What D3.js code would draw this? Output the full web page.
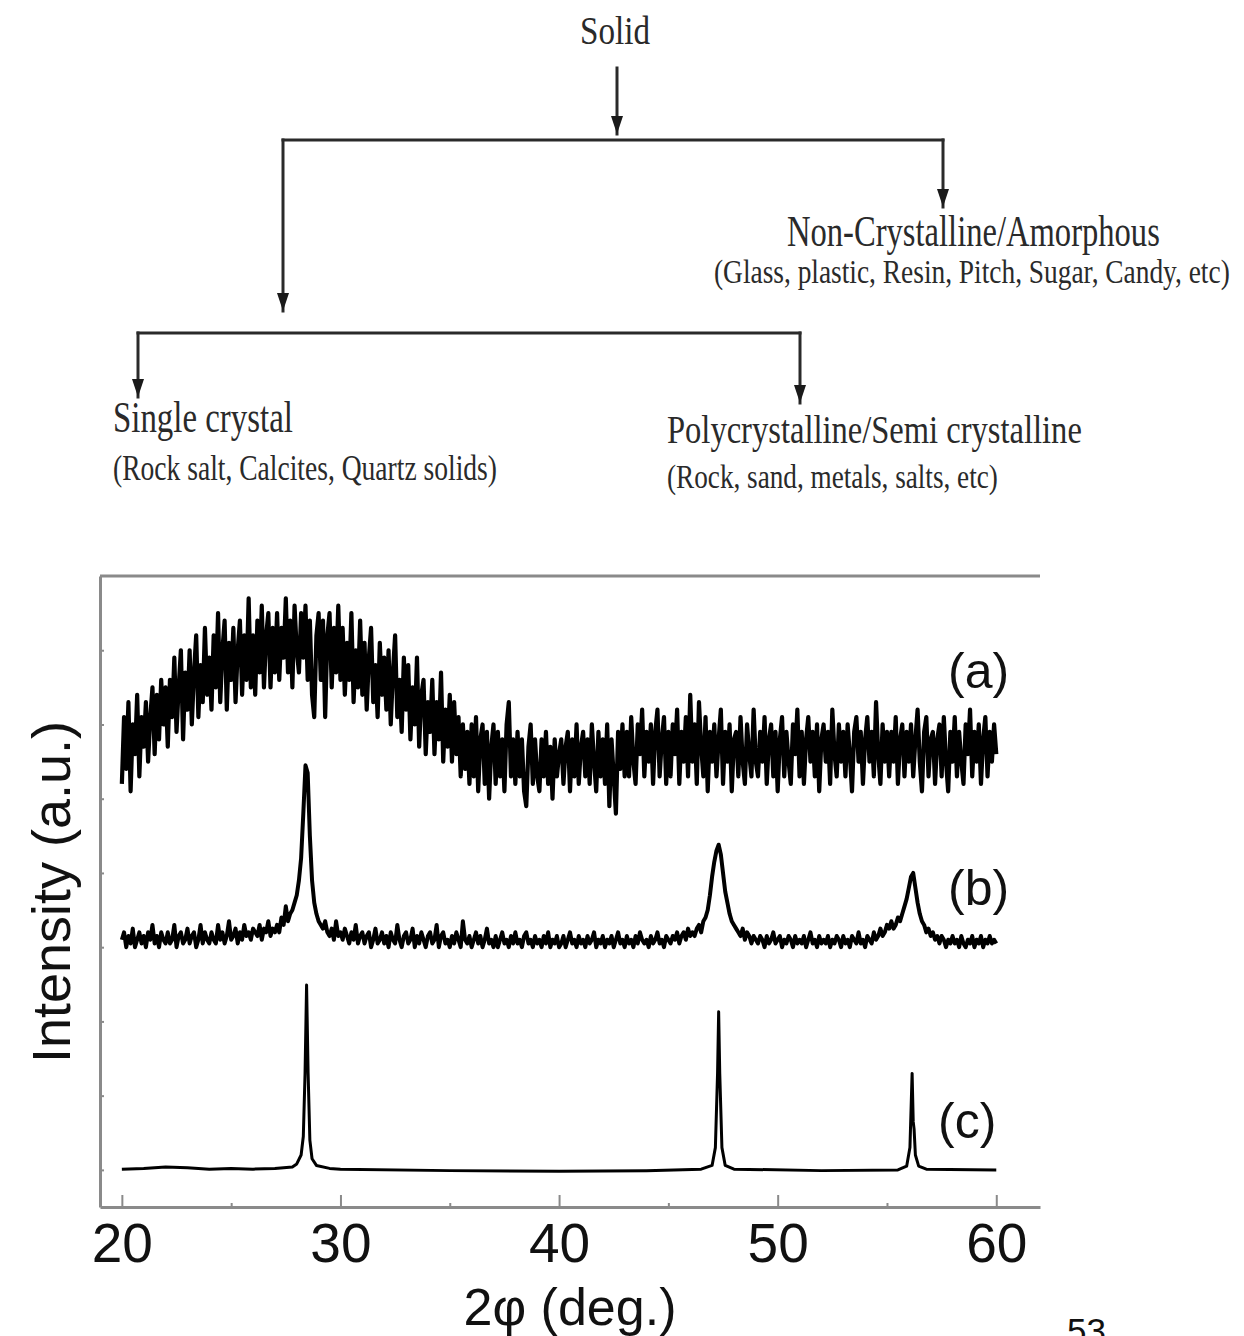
<!DOCTYPE html>
<html>
<head>
<meta charset="utf-8">
<script src="https://cdn.jsdelivr.net/npm/d3@7"></script>
<style>
  html, body { margin: 0; padding: 0; background: #fff; }
  svg { display: block; }
</style>
</head>
<body>
<script>
// ---- XRD scan data (2θ from 20° to 60°, 0.1° steps) ----
const scanStart = 20;
const scanStep = 0.1;

// (a) amorphous sample: broad hump, noisy
const amorphous = [
  57,66,59,68,56,65,61,69,58,66,62,
  68,60,66,70,61,69,63,71,65,70,
  62,71,66,74,64,70,75,63,72,67,
  75,65,72,77,66,73,68,78,69,74,
  67,77,70,80,68,75,79,67,76,71,
  78,68,75,79,69,77,71,82,70,77,
  69,79,72,81,70,77,80,70,78,72,
  80,71,78,74,82,72,79,70,81,75,
  72,80,74,81,71,79,69,66,77,80,
  71,79,66,77,80,70,78,72,81,71,
  78,69,76,71,80,68,75,70,79,69,
  76,67,74,78,68,73,66,76,69,74,
  67,75,65,72,77,66,71,64,74,67,
  73,63,70,65,74,62,69,71,61,68,
  64,71,61,68,63,72,60,67,62,69,
  60,68,61,66,58,65,59,64,57,65,
  58,66,56,63,65,57,64,55,62,65,
  57,64,58,63,56,65,68,58,63,57,
  64,58,63,56,54,62,65,57,63,58,
  56,63,58,64,57,62,55,63,58,61,
  63,57,62,64,56,63,58,65,57,62,
  64,58,63,57,65,60,56,64,58,63,
  57,65,54,63,58,53,64,59,65,58,
  64,58,66,60,57,65,61,67,58,64,
  60,65,57,64,67,58,63,66,57,64,
  58,65,61,67,57,64,60,66,58,69,
  60,65,57,68,62,58,66,56,64,60,
  65,58,63,67,57,64,60,65,56,63,
  64,58,66,60,57,65,61,58,67,60,
  58,64,60,66,57,63,65,58,64,56,
  63,66,58,64,60,57,65,61,67,58,
  64,57,63,66,60,64,58,65,56,63,
  65,60,64,57,67,61,58,65,60,64,
  58,65,61,56,64,66,60,64,57,63,
  66,60,64,58,68,61,57,65,60,64,
  58,64,60,66,57,63,65,58,64,60,
  65,58,63,67,60,56,64,66,58,63,
  64,57,63,65,58,66,60,56,64,60,
  66,58,64,60,57,65,61,67,58,64,
  60,65,57,63,66,58,64,60,65,61
];

// (b) polycrystalline / semi-crystalline sample: broadened peaks
const semiCrystalline = [
  36,37,35,36.5,35.5,37.5,35,36,37,35.5,36.5,
  35,37,36,38,35.5,36.5,35,37,36,35.5,
  37,35.5,36,38,35,36.5,37,35.5,36,37.5,
  35.5,36.5,37,35,36,38,35.5,37,36,35.5,
  37,36,35.5,38,36,37,35.5,36.5,38.5,36,
  36.5,37.5,35.5,37,36,38,36.5,37,36,37.5,
  37,36.5,38,36,37.5,37,38.5,36.5,37.5,37,
  38,37,39,38,40.5,38.5,39.5,40,41,42,
  44,47,53,59.5,58.5,50,44,41,39.5,38.5,
  38,37.5,38.5,37,36.5,37.5,36,38.5,36.5,37,
  36,37.5,36.5,35.5,37,36,38,35.5,36.5,37,
  35.5,36.5,37,35,36,37.5,35.5,36,37,35.5,
  36.5,35,37,36,35.5,38,36,35,36.5,37,
  35.5,36,37.5,35,36.5,35.5,37,36,35,36.5,
  37,35.5,36,38,35,36.5,37,35.5,36,35,
  36.5,35.5,37,36,35,38.5,36,35.5,36.5,35,
  36,37,35.5,36.5,35,36,37.5,35.5,36,35,
  36.5,35,36,37,35.5,36,35,36.5,35.5,37,
  35.5,36,35,36.5,37,35.5,36,35,36.5,35.5,
  36,35,36.5,35.5,37,35,36,35.5,36.5,35,
  35.5,36.5,35,36,37,35.5,36,35,36.5,35.5,
  36,35,36.5,35.5,36,37,35,36,35.5,36.5,
  35,36,35.5,36.5,35,36,37,35.5,36,35,
  36.5,35.5,36,35,36.5,35.5,37,36,35.5,36,
  35,36.5,35.5,36,37,35.5,36,35,36.5,36,
  35.5,36.5,36,37,35.5,36.5,37,36,37.5,36.5,
  37,36.5,37.5,38,37,38.5,39,40,42,44.5,
  46.5,48,48.8,47.5,45,42.5,41,39.5,38.5,38,
  37.5,37,36.5,37.5,36,37,36.5,35.5,36.5,36,
  35.5,36.5,36,35,36.5,35.5,36,37,35.5,36,
  36.5,35,36,35.5,36.5,36,35,36.5,35.5,36,
  35.5,36.5,35,36,37,35.5,36,35,36.5,35.5,
  36,35.5,36.5,35,36,35.5,36.5,36,35,36.5,
  35.5,36,35,36.5,36,35.5,37,35.5,36,35,
  36.5,36,35.5,37,36,36.5,37.5,36.5,37,38,
  37.5,38.5,37.5,38,39,38.5,39.5,40.5,41.5,43,
  44.5,45,43,41,39.5,38.5,38,37,37.5,36.5,
  37,36,36.5,35.5,36.5,36,35,36,35.5,36.5,
  35.5,36,35,36.5,35.5,35,36,35.5,36.5,35,
  36,35.5,36.5,35,36,35.5,36.5,35.5,36,35.5
];

// (c) single crystal: sharp reflections
const crystalAngles = [20,21,22,23,24,25,26,27,
  27.8,28.0,28.2,28.3,28.38,28.45,28.52,28.6,28.7,28.9,
  29.5,30,35,40,44,46.5,
  47.0,47.15,47.25,47.3,47.35,47.45,47.6,48,
  52,55.5,55.9,
  56.05,56.1,56.15,56.2,56.24,56.3,56.45,56.8,60];
const crystalValues = [5.1,5.2,5.4,5.3,5.1,5.2,5.1,5.2,
  5.4,5.8,7.0,9.5,18,29.9,18,9,6.5,5.6,
  5.2,5.1,4.9,4.8,4.9,5.1,
  5.6,8,18,26.3,18,8,5.6,5.1,
  4.9,5.0,5.5,
  8,13,18,11.5,10.5,7,5.5,5.1,5.0];

const xMajorTicks = [20, 30, 40, 50, 60];
const xMinorTicks = [25, 35, 45, 55];
const yTicks = [5, 15, 25, 35, 45, 55, 65, 75];
const seriesLabels = ["(a)", "(b)", "(c)"];

// ---- canvas ----
const W = 1244, H = 1336;
const svg = d3.select("body").append("svg")
  .attr("width", W).attr("height", H)
  .attr("viewBox", `0 0 ${W} ${H}`);

const defs = svg.append("defs");
defs.append("marker")
  .attr("id", "arrowTip")
  .attr("viewBox", "0 0 18 12")
  .attr("refX", 18).attr("refY", 6)
  .attr("markerWidth", 18).attr("markerHeight", 12)
  .attr("markerUnits", "userSpaceOnUse")
  .attr("orient", "auto")
  .append("path")
  .attr("d", "M0,0 L18,6 L0,12 Z")
  .attr("fill", "#1a1a1a");

// ---- classification tree ----
const tree = svg.append("g").attr("class", "tree");
const ink = "#2a2a2a";

const connectors = [
  { d: "M617,68 V134", arrow: true },
  { d: "M283,140 H943", arrow: false },
  { d: "M943,140 V207", arrow: true },
  { d: "M283,140 V311", arrow: true },
  { d: "M138,333 H800", arrow: false },
  { d: "M138,333 V397", arrow: true },
  { d: "M800,333 V403", arrow: true }
];
tree.selectAll("path.link").data(connectors).join("path")
  .attr("class", "link")
  .attr("d", d => d.d)
  .attr("fill", "none")
  .attr("stroke", ink)
  .attr("stroke-width", 3)
  .attr("stroke-linecap", "square")
  .attr("marker-end", d => d.arrow ? "url(#arrowTip)" : null);

// Condensed serif label: the font size is reduced so the run fits the
// requested width, and the glyphs are stretched back to full height.
function serifLabel(text, x, y, size, len) {
  const g = tree.append("g").attr("transform", `translate(${x},${y})`);
  const t = g.append("text")
    .attr("font-family", "'Liberation Serif', 'DejaVu Serif', serif")
    .attr("font-size", size)
    .attr("fill", ink)
    .text(text);
  const natural = t.node().getComputedTextLength();
  const r = natural > 0 ? len / natural : 1;
  t.attr("font-size", size * r);
  g.attr("transform", `translate(${x},${y}) scale(1,${1 / r})`);
}
serifLabel("Solid", 580, 44, 40, 70);
serifLabel("Non-Crystalline/Amorphous", 787, 246, 44, 373);
serifLabel("(Glass, plastic, Resin, Pitch, Sugar, Candy, etc)", 714, 283, 34, 516);
serifLabel("Single crystal", 113, 432, 44, 180);
serifLabel("(Rock salt, Calcites, Quartz solids)", 113, 480, 36, 384);
serifLabel("Polycrystalline/Semi crystalline", 667, 443, 40, 415);
serifLabel("(Rock, sand, metals, salts, etc)", 667, 488, 33, 331);

// ---- diffraction chart ----
const x = d3.scaleLinear().domain([19, 62]).range([100, 1040]);
const y = d3.scaleLinear().domain([0, 85]).range([1207, 576]);
const axisGrey = "#8a8a8a";
const sans = "'Liberation Sans', Arial, Helvetica, sans-serif";

const chart = svg.append("g").attr("class", "chart");

// top frame edge
chart.append("line")
  .attr("x1", x.range()[0]).attr("x2", x.range()[1])
  .attr("y1", y.range()[1]).attr("y2", y.range()[1])
  .attr("stroke", axisGrey).attr("stroke-width", 3);

// minor x ticks
chart.append("g")
  .attr("transform", `translate(0,${y.range()[0]})`)
  .call(d3.axisBottom(x).tickValues(xMinorTicks).tickSize(-4).tickFormat(""))
  .call(g => g.select(".domain").remove())
  .call(g => g.selectAll(".tick line").attr("stroke", axisGrey).attr("stroke-width", 2));

// major x axis
chart.append("g")
  .attr("transform", `translate(0,${y.range()[0]})`)
  .call(d3.axisBottom(x).tickValues(xMajorTicks).tickSizeInner(-12).tickSizeOuter(0).tickPadding(16))
  .call(g => g.select(".domain").attr("stroke", axisGrey).attr("stroke-width", 3))
  .call(g => g.selectAll(".tick line").attr("stroke", axisGrey).attr("stroke-width", 2))
  .call(g => g.selectAll(".tick text")
    .attr("font-family", sans).attr("font-size", 55).attr("fill", "#111"));

// y axis (unlabelled intensity)
chart.append("g")
  .attr("transform", `translate(${x.range()[0]},0)`)
  .call(d3.axisLeft(y).tickValues(yTicks).tickSizeInner(-4).tickSizeOuter(0).tickFormat(""))
  .call(g => g.select(".domain").attr("stroke", axisGrey).attr("stroke-width", 3))
  .call(g => g.selectAll(".tick line").attr("stroke", axisGrey).attr("stroke-width", 2));

// traces
const scanLine = d3.line()
  .x((d, i) => x(scanStart + i * scanStep))
  .y(d => y(d));

chart.append("path")
  .datum(amorphous)
  .attr("d", scanLine)
  .attr("fill", "none").attr("stroke", "#000")
  .attr("stroke-width", 4.2).attr("stroke-linejoin", "round");

chart.append("path")
  .datum(semiCrystalline)
  .attr("d", scanLine)
  .attr("fill", "none").attr("stroke", "#000")
  .attr("stroke-width", 4).attr("stroke-linejoin", "round");

const crystalLine = d3.line()
  .x((d, i) => x(crystalAngles[i]))
  .y(d => y(d));
chart.append("path")
  .datum(crystalValues)
  .attr("d", crystalLine)
  .attr("fill", "none").attr("stroke", "#000")
  .attr("stroke-width", 3).attr("stroke-linejoin", "round");

// series tags
const tagPos = [[948, 688], [948, 905], [938, 1138]];
chart.selectAll("text.tag").data(seriesLabels).join("text")
  .attr("class", "tag")
  .attr("x", (d, i) => tagPos[i][0])
  .attr("y", (d, i) => tagPos[i][1])
  .attr("font-family", sans).attr("font-size", 50).attr("fill", "#111")
  .text(d => d);

// axis titles
chart.append("text")
  .attr("x", 570).attr("y", 1325)
  .attr("text-anchor", "middle")
  .attr("font-family", sans).attr("font-size", 52).attr("fill", "#111")
  .text("2φ (deg.)");

chart.append("text")
  .attr("transform", "translate(70,892) rotate(-90)")
  .attr("text-anchor", "middle")
  .attr("font-family", sans).attr("font-size", 54).attr("fill", "#111")
  .text("Intensity (a.u.)");

// page number
svg.append("text")
  .attr("x", 1067).attr("y", 1343)
  .attr("font-family", sans).attr("font-size", 35).attr("fill", "#111")
  .text("53");
</script>
</body>
</html>
